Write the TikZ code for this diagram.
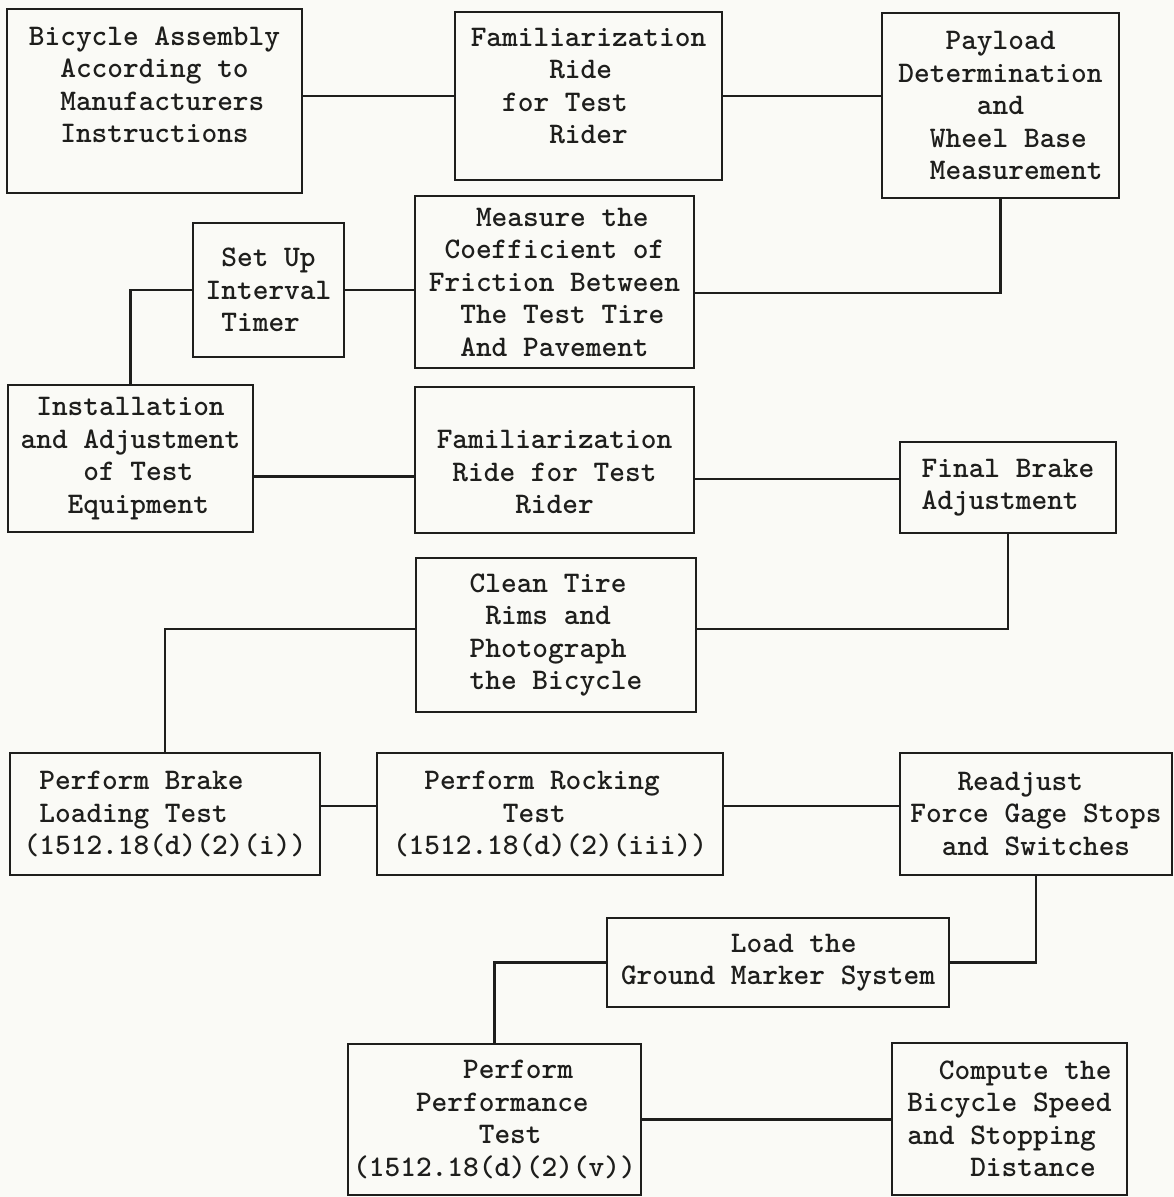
\documentclass[tikz,border=0pt]{standalone}
\usepackage{fontspec}
\usepackage{tikz}
\definecolor{colorpaper}{RGB}{250,250,246}
\definecolor{colorink}  {RGB}{30 ,30 ,28 }
\newcommand{\typepad}[1]{\hspace*{#1\dimexpr0.525em\relax}}

\begin{document}
\begin{tikzpicture}[
    x=1pt, y=-1pt,
    font={\fontsize{29.9}{32.5}\selectfont\ttfamily\bfseries},
    base/.style={text=colorink,align=left,rectangle,inner sep=0pt},
    stepbox/.style={base,draw=colorink,line width=2.8pt},
    link/.style={draw=colorink,line width=2.8pt},
]

    % Paper
    \fill[colorpaper] (0,0) rectangle (1174,1197);
    \useasboundingbox (0,0) rectangle (1174,1197);

    % Preparation
    \node[stepbox,minimum width=295pt,minimum height=184pt] at (154.5,101) (assembly) {Bicycle Assembly\\\typepad{2}According to\\\typepad{2}Manufacturers\\\typepad{2}Instructions\\\mbox{}};
    \node[stepbox,minimum width=267pt,minimum height=168pt] at (588.5,96) (ride1) {Familiarization\\\typepad{5}Ride\\\typepad{2}for Test\\\typepad{5}Rider\\[-12pt]\mbox{}};
    \node[stepbox,minimum width=237pt,minimum height=185pt] at (1000.5,105.5) (payload) {\typepad{3}Payload\\Determination\\\typepad{5}and\\\typepad{2}Wheel Base\\\typepad{2}Measurement};
    \node[stepbox,minimum width=279pt,minimum height=172pt] at (554.5,282) (friction) {\typepad{3}Measure the\\\typepad{1}Coefficient of\\Friction Between\\\typepad{2}The Test Tire\\\typepad{2}And Pavement};
    \node[stepbox,minimum width=151pt,minimum height=134pt] at (268.5,290) (timer) {\typepad{1}Set Up\\Interval\\\typepad{1}Timer};

    % Equipment
    \node[stepbox,minimum width=245pt,minimum height=147pt] at (130.5,458.5) (install) {\typepad{1}Installation\\and Adjustment\\\typepad{4}of Test\\\typepad{3}Equipment};
    \node[stepbox,minimum width=279pt,minimum height=146pt] at (554.5,460) (ride2) {\mbox{}\\[10pt]Familiarization\\\typepad{1}Ride for Test\\\typepad{5}Rider};
    \node[stepbox,minimum width=216pt,minimum height=91pt] at (1008,487.5) (finalbrake) {Final Brake\\Adjustment};
    \node[stepbox,minimum width=280pt,minimum height=154pt] at (556,635) (clean) {Clean Tire\\\typepad{1}Rims and\\Photograph\\the Bicycle};

    % Tests
    \node[stepbox,minimum width=310pt,minimum height=122pt] at (165,814) (loading) {\typepad{1}Perform Brake\\\typepad{1}Loading Test\\(1512.18(d)(2)(i))};
    \node[stepbox,minimum width=346pt,minimum height=122pt] at (550,814) (rocking) {\typepad{2}Perform Rocking\\\typepad{7}Test\\(1512.18(d)(2)(iii))};
    \node[stepbox,minimum width=272pt,minimum height=122pt] at (1036,814) (readjust) {\typepad{3}Readjust\\Force Gage Stops\\\typepad{2}and Switches};
    \node[stepbox,minimum width=342pt,minimum height=89pt] at (778,962.5) (marker) {\typepad{7}Load the\\Ground Marker System};
    \node[stepbox,minimum width=293pt,minimum height=151pt] at (494.5,1119.5) (perform) {\typepad{7}Perform\\\typepad{4}Performance\\\typepad{8}Test\\(1512.18(d)(2)(v))};
    \node[stepbox,minimum width=235pt,minimum height=152pt] at (1009.5,1119) (compute) {\typepad{2}Compute the\\Bicycle Speed\\and Stopping\\\typepad{4}Distance};

    % Links
    \draw[link] (assembly.east |- ride1.west) -- (ride1.west);
    \draw[link] (ride1.east) -- (ride1.east -| payload.west);
    \draw[link] (payload.south) |- ([yshift=-11pt]friction.east);
    \draw[link] (timer.east) -- (timer.east -| friction.west);
    \draw[link] (timer.west) -| (install.north);
    \draw[link] ([yshift=-18pt]install.east) -- ([yshift=-18pt]install.east -| ride2.west);
    \draw[link] ([yshift=-19pt]ride2.east) -- ([yshift=-19pt]ride2.east -| finalbrake.west);
    \draw[link] (finalbrake.south) |- ([yshift=6pt]clean.east);
    \draw[link] ([yshift=6pt]clean.west) -| (loading.north);
    \draw[link] ([yshift=8pt]loading.east) -- ([yshift=8pt]loading.east -| rocking.west);
    \draw[link] ([yshift=8pt]rocking.east) -- ([yshift=8pt]rocking.east -| readjust.west);
    \draw[link] (readjust.south) |- (marker.east);
    \draw[link] (marker.west) -| (perform.north);
    \draw[link] (perform.east) -- (perform.east -| compute.west);

\end{tikzpicture}
\end{document}
